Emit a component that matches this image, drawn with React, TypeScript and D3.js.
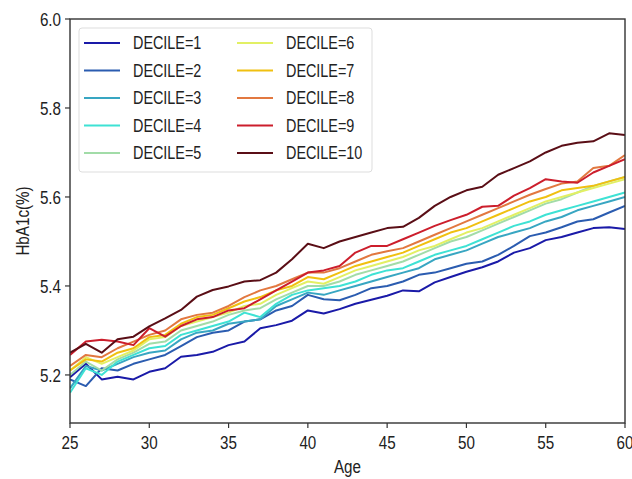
import * as d3 from 'd3';
import React from 'react';

const ages = d3.range(25, 61);

const decile1 = [5.195, 5.225, 5.19, 5.196, 5.19, 5.207, 5.215, 5.241, 5.245, 5.252, 5.267, 5.275, 5.305, 5.312, 5.322, 5.345, 5.338, 5.348, 5.36, 5.369, 5.378, 5.39, 5.388, 5.408, 5.42, 5.432, 5.442, 5.455, 5.475, 5.485, 5.503, 5.51, 5.52, 5.53, 5.532, 5.528];
const decile2 = [5.19, 5.175, 5.215, 5.21, 5.225, 5.235, 5.245, 5.265, 5.285, 5.295, 5.3, 5.32, 5.325, 5.345, 5.355, 5.38, 5.37, 5.368, 5.38, 5.395, 5.4, 5.41, 5.425, 5.43, 5.44, 5.45, 5.455, 5.47, 5.49, 5.512, 5.52, 5.532, 5.545, 5.55, 5.565, 5.58];
const decile3 = [5.17, 5.22, 5.21, 5.225, 5.24, 5.25, 5.255, 5.28, 5.295, 5.3, 5.315, 5.32, 5.325, 5.355, 5.37, 5.385, 5.38, 5.39, 5.4, 5.41, 5.42, 5.43, 5.44, 5.46, 5.47, 5.48, 5.495, 5.51, 5.52, 5.53, 5.545, 5.555, 5.57, 5.58, 5.59, 5.6];
const decile4 = [5.16, 5.215, 5.2, 5.23, 5.245, 5.26, 5.265, 5.29, 5.3, 5.31, 5.32, 5.34, 5.33, 5.36, 5.38, 5.39, 5.395, 5.4, 5.41, 5.425, 5.435, 5.44, 5.455, 5.47, 5.48, 5.49, 5.505, 5.52, 5.535, 5.545, 5.56, 5.57, 5.58, 5.59, 5.6, 5.61];
const decile5 = [5.2, 5.23, 5.21, 5.235, 5.25, 5.27, 5.275, 5.3, 5.31, 5.32, 5.335, 5.345, 5.35, 5.37, 5.385, 5.4, 5.4, 5.41, 5.425, 5.435, 5.445, 5.455, 5.47, 5.485, 5.5, 5.51, 5.525, 5.54, 5.555, 5.57, 5.585, 5.595, 5.61, 5.625, 5.635, 5.645];
const decile6 = [5.21, 5.24, 5.225, 5.24, 5.255, 5.28, 5.285, 5.31, 5.32, 5.33, 5.34, 5.355, 5.36, 5.38, 5.395, 5.41, 5.405, 5.42, 5.435, 5.445, 5.455, 5.465, 5.48, 5.49, 5.505, 5.52, 5.53, 5.545, 5.56, 5.575, 5.59, 5.6, 5.61, 5.62, 5.63, 5.64];
const decile7 = [5.21, 5.235, 5.23, 5.25, 5.26, 5.285, 5.29, 5.315, 5.33, 5.335, 5.35, 5.365, 5.375, 5.39, 5.4, 5.42, 5.415, 5.43, 5.445, 5.455, 5.465, 5.475, 5.49, 5.505, 5.52, 5.53, 5.545, 5.56, 5.575, 5.59, 5.6, 5.615, 5.62, 5.625, 5.635, 5.645];
const decile8 = [5.22, 5.245, 5.24, 5.26, 5.275, 5.29, 5.3, 5.325, 5.335, 5.34, 5.355, 5.375, 5.39, 5.4, 5.415, 5.43, 5.43, 5.44, 5.455, 5.47, 5.478, 5.485, 5.5, 5.515, 5.53, 5.545, 5.56, 5.575, 5.59, 5.605, 5.618, 5.63, 5.635, 5.665, 5.67, 5.694];
const decile9 = [5.245, 5.275, 5.279, 5.275, 5.267, 5.305, 5.286, 5.31, 5.325, 5.33, 5.345, 5.35, 5.37, 5.39, 5.41, 5.43, 5.435, 5.445, 5.475, 5.49, 5.49, 5.505, 5.52, 5.535, 5.548, 5.56, 5.578, 5.58, 5.603, 5.62, 5.64, 5.635, 5.632, 5.655, 5.67, 5.685];
const decile10 = [5.25, 5.27, 5.25, 5.28, 5.286, 5.309, 5.327, 5.346, 5.376, 5.391, 5.399, 5.41, 5.413, 5.43, 5.46, 5.495, 5.485, 5.5, 5.51, 5.52, 5.53, 5.533, 5.553, 5.58, 5.6, 5.615, 5.623, 5.65, 5.665, 5.68, 5.7, 5.715, 5.722, 5.725, 5.743, 5.739];

const series = [decile1, decile2, decile3, decile4, decile5, decile6, decile7, decile8, decile9, decile10];
const labels = series.map((_, i) => 'DECILE=' + (i + 1));
const colors = ['#1a1aa8', '#2b5cb0', '#38a6c2', '#3ee2d4', '#a2dca8', '#e2f064', '#f0c010', '#e27840', '#cc1e2c', '#5a0e16'];

const xTicks = [25, 30, 35, 40, 45, 50, 55, 60];
const yTicks = [5.2, 5.4, 5.6, 5.8, 6.0];

const W = 632, H = 479;
const left = 70, right = 625, top = 19, bottom = 423;
const font = "'Liberation Sans', Arial, sans-serif";
const squeeze = 0.8;

// narrow text: the reference font is a condensed sans
function NText(props: { x: number; y: number; size: number; anchor?: string; rotate?: number; children: React.ReactNode }) {
    const { x, y, size, anchor = 'start', rotate = 0, children } = props;
    return (
        <text
            transform={`translate(${x},${y}) rotate(${rotate}) scale(${squeeze},1)`}
            textAnchor={anchor}
            dy="0.35em"
            fontSize={size}
            fontFamily={font}
            fill="#222"
        >
            {children}
        </text>
    );
}

export default function App() {
    const x = d3.scaleLinear().domain([25, 60]).range([left, right]);
    const y = d3.scaleLinear().domain([5.092, 6.0]).range([bottom, top]);
    const line = d3.line<number>()
        .x((_, i) => x(ages[i]))
        .y(d => y(d));

    return (
        <svg width={W} height={H} style={{ position: 'absolute', left: 0, top: 0, background: '#fff' }}>
            <defs>
                <clipPath id="plot">
                    <rect x={left} y={top} width={right - left} height={bottom - top} />
                </clipPath>
            </defs>
            <g clipPath="url(#plot)" fill="none" strokeWidth={2} strokeLinejoin="round">
                {series.map((s, i) => (
                    <path key={i} d={line(s) || ''} stroke={colors[i]} />
                ))}
            </g>
            {/* frame */}
            <rect x={left} y={top} width={right - left} height={bottom - top} fill="none" stroke="#333" strokeWidth={1.4} />
            {/* x axis */}
            {xTicks.map(t => (
                <g key={t}>
                    <line x1={x(t)} x2={x(t)} y1={bottom} y2={bottom + 5} stroke="#333" strokeWidth={1.2} />
                    <NText x={x(t)} y={bottom + 19} size={19} anchor="middle">{t}</NText>
                </g>
            ))}
            {/* y axis */}
            {yTicks.map(t => (
                <g key={t}>
                    <line x1={left} x2={left - 5} y1={y(t)} y2={y(t)} stroke="#333" strokeWidth={1.2} />
                    <NText x={left - 9} y={y(t)} size={19} anchor="end">{t.toFixed(1)}</NText>
                </g>
            ))}
            <NText x={(left + right) / 2} y={466} size={19} anchor="middle">Age</NText>
            <NText x={22} y={(top + bottom) / 2} size={19} anchor="middle" rotate={-90}>HbA1c(%)</NText>
            {/* legend */}
            <rect x={79} y={28} width={293} height={144} rx={3} fill="#fff" fillOpacity={0.85} stroke="#ddd" />
            {labels.map((lab, i) => {
                const col = Math.floor(i / 5);
                const row = i % 5;
                const lx = col === 0 ? 84 : 237;
                const ly = 43 + row * 27.5;
                return (
                    <g key={lab}>
                        <line x1={lx} x2={lx + 36} y1={ly} y2={ly} stroke={colors[i]} strokeWidth={2} />
                        <NText x={lx + 49} y={ly} size={18}>{lab}</NText>
                    </g>
                );
            })}
        </svg>
    );
}
